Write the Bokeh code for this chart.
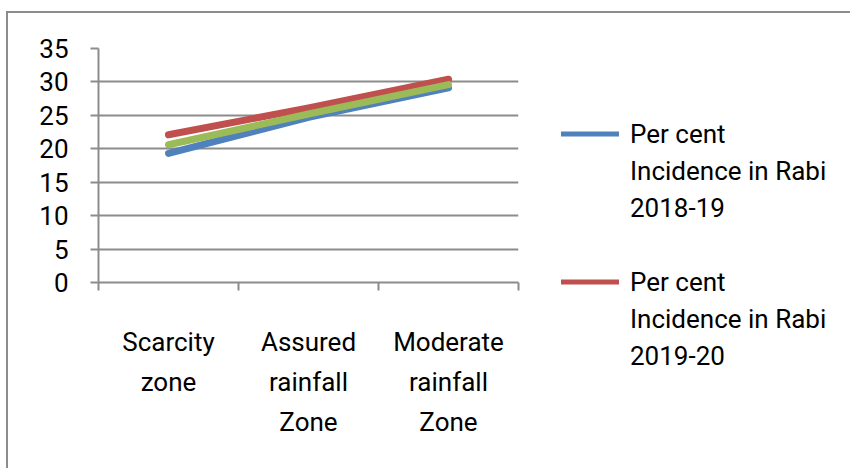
from bokeh.plotting import figure
from bokeh.models import FixedTicker, Range1d, Legend, LegendItem, InlineStyleSheet
from bokeh.embed import file_html
from bokeh.resources import INLINE

# ---- data ----
categories = ["Scarcity\nzone", "Assured\nrainfall\nZone", "Moderate\nrainfall\nZone"]
rabi_2018_19 = [19.3, 24.7, 29.1]
rabi_2019_20 = [22.1, 26.1, 30.4]
rabi_third = [20.6, 25.2, 29.6]
y_ticks = [0, 5, 10, 15, 20, 25, 30, 35]
legend_labels = [["Per cent", "Incidence in Rabi", "2018-19"],
                 ["Per cent", "Incidence in Rabi", "2019-20"]]

BLUE, RED, GREEN = "#4F81BD", "#C0504D", "#9BBB59"
GRAY = "#8C8C8C"
FONT = "Roboto"
FS = "26px"

xs = [i + 0.5 for i in range(len(categories))]

p = figure(frame_width=420, frame_height=234,
           min_border_left=98, min_border_right=324,
           min_border_top=48, min_border_bottom=178,
           x_range=Range1d(0, len(categories)), y_range=Range1d(0, y_ticks[-1]),
           output_backend="svg", toolbar_location=None)
p.outline_line_color = None
p.background_fill_color = "white"
p.border_fill_color = "white"

p.xgrid.visible = False
p.ygrid.ticker = FixedTicker(ticks=y_ticks)
p.ygrid.grid_line_color = GRAY
p.ygrid.grid_line_width = 2

p.yaxis.ticker = FixedTicker(ticks=y_ticks)
p.yaxis.axis_line_color = GRAY
p.yaxis.axis_line_width = 2
p.yaxis.major_tick_line_color = GRAY
p.yaxis.major_tick_line_width = 2
p.yaxis.major_tick_out = 8
p.yaxis.major_tick_in = 0
p.yaxis.minor_tick_line_color = None
p.yaxis.major_label_standoff = 22
p.yaxis.major_label_text_font = FONT
p.yaxis.major_label_text_font_size = FS
p.yaxis.major_label_text_color = "black"

p.xaxis.ticker = FixedTicker(ticks=xs, minor_ticks=list(range(len(categories) + 1)))
p.xaxis.major_label_overrides = {x: c for x, c in zip(xs, categories)}
p.xaxis.axis_line_color = GRAY
p.xaxis.axis_line_width = 2
p.xaxis.major_tick_line_color = None
p.xaxis.major_tick_out = 0
p.xaxis.major_tick_in = 0
p.xaxis.minor_tick_line_color = GRAY
p.xaxis.minor_tick_line_width = 2
p.xaxis.minor_tick_out = 8
p.xaxis.minor_tick_in = 0
p.xaxis.major_label_standoff = 36
p.xaxis.major_label_text_font = FONT
p.xaxis.major_label_text_font_size = FS
p.xaxis.major_label_text_color = "black"
p.xaxis.major_label_text_line_height = 1.34

for vals, col in [(rabi_2018_19, BLUE), (rabi_2019_20, RED), (rabi_third, GREEN)]:
    p.line(xs, vals, line_color=col, line_width=7, line_cap="round", line_join="round")

# ---- legend: one item per text line, a blank spacer between the two entries ----
NAN = float("nan")
hidden = p.line([NAN], [NAN], line_color="white", line_alpha=0, line_width=1)
items = []
for k, (lines, col) in enumerate(zip(legend_labels, [BLUE, RED])):
    if k > 0:
        items.append(LegendItem(label=" ", renderers=[hidden]))
    proxy = p.line([NAN], [NAN], line_color=col, line_width=5, line_cap="round")
    items.append(LegendItem(label=lines[0], renderers=[proxy]))
    items += [LegendItem(label=t, renderers=[hidden]) for t in lines[1:]]
leg = Legend(items=items, location=(43, -92), orientation="vertical",
             border_line_color=None, background_fill_alpha=0,
             padding=0, margin=0, spacing=0,
             glyph_width=58, glyph_height=37, label_standoff=11,
             label_text_font=FONT, label_text_font_size=FS,
             label_text_color="black")
p.add_layout(leg, "right")

# chart border (top and left edges visible in the reference)
p.stylesheets = [InlineStyleSheet(css=(
    ":host { position: relative; }"
    ":host::after { content: ''; position: absolute; left: 6px; top: 11px; "
    "right: -20px; bottom: -20px; border-top: 2px solid #8C8C8C; "
    "border-left: 2px solid #8C8C8C; pointer-events: none; }"))]

open("out.html", "w").write(file_html(p, INLINE))
